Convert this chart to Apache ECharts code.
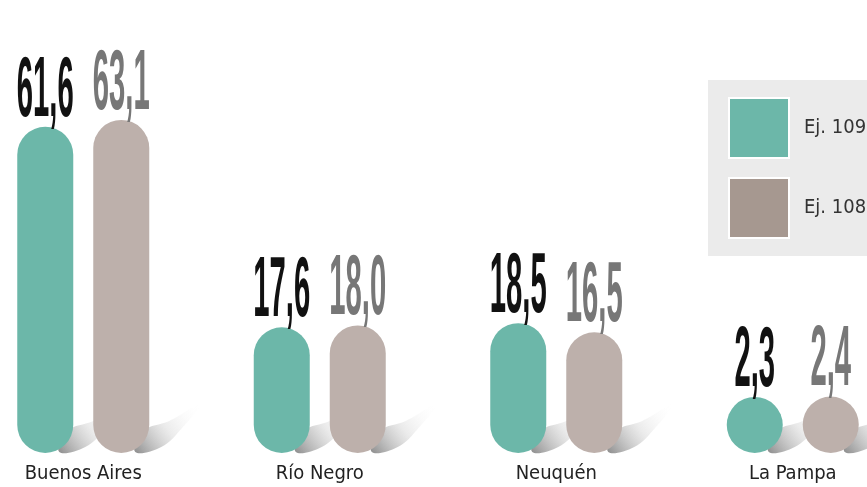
<!DOCTYPE html>
<html>
<head>
<meta charset="utf-8">
<script src="https://cdn.jsdelivr.net/npm/echarts@6/dist/echarts.min.js"></script>
<style>
html,body{margin:0;padding:0;background:#fff;}
#main{width:867px;height:487px;}
</style>
</head>
<body>
<div id="main"></div>
<script>
var provincias = ['Buenos Aires', 'Río Negro', 'Neuquén', 'La Pampa'];
var ej109 = [61.6, 17.6, 18.5, 2.3];
var ej108 = [63.1, 18.0, 16.5, 2.4];
var yMin = -10, yMax = 80;
var fuente = '"DejaVu Sans Condensed", "DejaVu Sans", sans-serif';

function fmt(v) {
    return v.toFixed(1).replace('.', ',');
}

function barRenderer(offset, barColor, labelColor) {
    return function (params, api) {
        var top = api.coord([api.value(0), api.value(1)]);
        var base = api.coord([api.value(0), yMin]);
        var w = 56;
        var cx = top[0] + offset;
        var right = cx + w / 2;
        var b = base[1];
        var sombra = new echarts.graphic.LinearGradient(0, 1, 1, 0, [
            {offset: 0, color: 'rgba(110,110,110,0.8)'},
            {offset: 0.5, color: 'rgba(210,210,210,0.45)'},
            {offset: 1, color: 'rgba(255,255,255,0)'}
        ]);
        return {
            type: 'group',
            children: [
                {
                    type: 'polygon',
                    shape: {
                        points: [[right - 14, b - 1], [right - 6, b - 22], [right + 20, b - 32], [right + 50, b - 48],
                            [right + 32, b - 24], [right + 12, b - 6]],
                        smooth: 0.4
                    },
                    style: {fill: sombra}
                },
                {
                    type: 'rect',
                    shape: {x: cx - w / 2, y: top[1], width: w, height: b - top[1], r: w / 2},
                    style: {fill: barColor}
                },
                {
                    type: 'text',
                    x: cx,
                    y: top[1] + 8,
                    scaleX: 0.34,
                    style: {
                        text: fmt(api.value(1)),
                        fill: labelColor,
                        font: 'bold 86px "Liberation Sans"',
                        align: 'center',
                        verticalAlign: 'bottom'
                    }
                }
            ]
        };
    };
}

var chart = echarts.init(document.getElementById('main'));
chart.setOption({
    animation: false,
    grid: {left: -35, right: -44, top: 43, bottom: 34, outerBoundsMode: 'none'},
    legend: {
        orient: 'vertical',
        left: 708,
        top: 80,
        padding: [17, 20, 17, 20],
        itemWidth: 60,
        itemHeight: 60,
        itemGap: 18,
        backgroundColor: '#ebebeb',
        icon: 'rect',
        itemStyle: {borderColor: '#fff', borderWidth: 2},
        textStyle: {fontFamily: fuente, fontSize: 20, color: '#333', padding: [0, 0, 0, 10]},
        data: [{name: 'Ej. 109'}, {name: 'Ej. 108', itemStyle: {color: '#a69890'}}]
    },
    xAxis: {
        type: 'category',
        data: provincias,
        axisLine: {show: false},
        axisTick: {show: false},
        axisLabel: {fontFamily: fuente, fontSize: 20, color: '#222', margin: 11}
    },
    yAxis: {type: 'value', min: yMin, max: yMax, show: false, splitLine: {show: false}},
    series: [
        {
            name: 'Ej. 109',
            type: 'custom',
            itemStyle: {color: '#6cb7a9'},
            encode: {x: 0, y: 1},
            renderItem: barRenderer(-38, '#6cb7a9', '#111'),
            data: ej109.map(function (v, i) { return [i, v]; })
        },
        {
            name: 'Ej. 108',
            type: 'custom',
            itemStyle: {color: '#bdb0ab'},
            encode: {x: 0, y: 1},
            renderItem: barRenderer(38, '#bdb0ab', '#777'),
            data: ej108.map(function (v, i) { return [i, v]; })
        }
    ]
});
</script>
</body>
</html>
